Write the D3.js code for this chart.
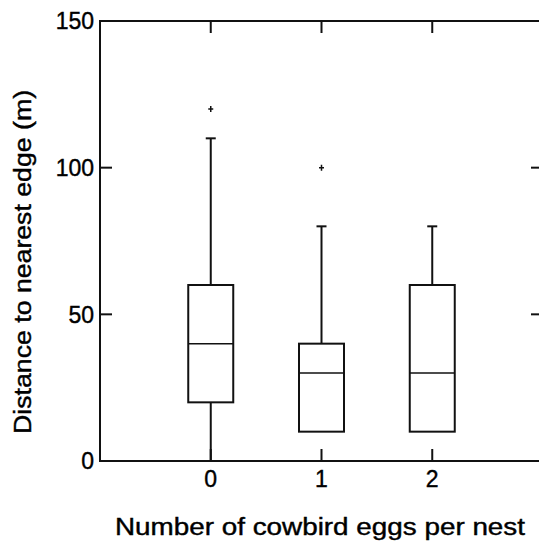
<!DOCTYPE html>
<html>
<head>
<meta charset="utf-8">
<script src="https://cdn.jsdelivr.net/npm/d3@7"></script>
<style>
  body { margin: 0; background: #fff; }
  svg { display: block; font-family: "Liberation Sans", Arial, sans-serif; }
  text { fill: #000; stroke: #000; stroke-width: 0.4; }
</style>
</head>
<body>
<div id="chart"></div>
<script>
// egg counts and box stats
const categories = [0, 1, 2];
const whiskerLow = [0, 10, 10];
const q1 = [20, 10, 10];
const median = [40, 30, 30];
const q3 = [60, 40, 60];
const whiskerHigh = [110, 80, 80];
const outliers = [[120], [100], []];
const yTicks = [0, 50, 100, 150];

const width = 539, height = 541;
const margin = { top: 21, right: -4, bottom: 80, left: 100 };

const svg = d3.select("#chart").append("svg")
  .attr("width", width)
  .attr("height", height);

const x = d3.scaleLinear().domain([-1, 3]).range([margin.left, width - margin.right]);
const y = d3.scaleLinear().domain([0, 150]).range([height - margin.bottom, margin.top]);

const stroke = "#111";

// frame
svg.append("rect")
  .attr("x", x(-1)).attr("y", y(150))
  .attr("width", x(3) - x(-1)).attr("height", y(0) - y(150))
  .attr("fill", "none").attr("stroke", stroke).attr("stroke-width", 2);

// y ticks, inside on both sides
const tl = 12;
svg.append("g").selectAll("line.yl").data(yTicks).join("line")
  .attr("x1", x(-1)).attr("x2", x(-1) + tl)
  .attr("y1", d => y(d)).attr("y2", d => y(d))
  .attr("stroke", stroke).attr("stroke-width", 2);
svg.append("g").selectAll("line.yr").data(yTicks).join("line")
  .attr("x1", x(3)).attr("x2", x(3) - tl)
  .attr("y1", d => y(d)).attr("y2", d => y(d))
  .attr("stroke", stroke).attr("stroke-width", 2);
svg.append("g").selectAll("text").data(yTicks).join("text")
  .attr("x", x(-1) - 6).attr("y", d => y(d))
  .attr("dy", "0.36em")
  .attr("text-anchor", "end")
  .attr("font-size", 23)
  .text(d => d);

// x ticks, inside top and bottom
svg.append("g").selectAll("line.xb").data(categories).join("line")
  .attr("x1", d => x(d)).attr("x2", d => x(d))
  .attr("y1", y(0)).attr("y2", y(0) - tl)
  .attr("stroke", stroke).attr("stroke-width", 2);
svg.append("g").selectAll("line.xt").data(categories).join("line")
  .attr("x1", d => x(d)).attr("x2", d => x(d))
  .attr("y1", y(150)).attr("y2", y(150) + tl)
  .attr("stroke", stroke).attr("stroke-width", 2);
svg.append("g").selectAll("text").data(categories).join("text")
  .attr("x", d => x(d)).attr("y", y(0) + 26)
  .attr("text-anchor", "middle")
  .attr("font-size", 23)
  .text(d => d);

// boxes
const bw = 45, cap = 10;
const boxes = svg.append("g").selectAll("g").data(categories).join("g");

boxes.append("line")
  .attr("x1", d => x(d)).attr("x2", d => x(d))
  .attr("y1", (d, i) => y(q3[i])).attr("y2", (d, i) => y(whiskerHigh[i]))
  .attr("stroke", stroke).attr("stroke-width", 2);
boxes.append("line")
  .attr("x1", d => x(d)).attr("x2", d => x(d))
  .attr("y1", (d, i) => y(q1[i])).attr("y2", (d, i) => y(whiskerLow[i]))
  .attr("stroke", stroke).attr("stroke-width", 2);
boxes.append("line")
  .attr("x1", d => x(d) - cap / 2).attr("x2", d => x(d) + cap / 2)
  .attr("y1", (d, i) => y(whiskerHigh[i])).attr("y2", (d, i) => y(whiskerHigh[i]))
  .attr("stroke", stroke).attr("stroke-width", 2);
boxes.append("rect")
  .attr("x", d => x(d) - bw / 2).attr("width", bw)
  .attr("y", (d, i) => y(q3[i]))
  .attr("height", (d, i) => y(q1[i]) - y(q3[i]))
  .attr("fill", "none").attr("stroke", stroke).attr("stroke-width", 2);
boxes.append("line")
  .attr("x1", d => x(d) - bw / 2).attr("x2", d => x(d) + bw / 2)
  .attr("y1", (d, i) => y(median[i])).attr("y2", (d, i) => y(median[i]))
  .attr("stroke", stroke).attr("stroke-width", 1.5);

// outliers as small plus marks
boxes.each(function (d, i) {
  d3.select(this).selectAll("path").data(outliers[i]).join("path")
    .attr("d", v => `M${x(d) - 2.5},${y(v)}h5M${x(d)},${y(v) - 3}v6`)
    .attr("stroke", stroke).attr("stroke-width", 1.5);
});

// axis titles
svg.append("text")
  .attr("x", 320).attr("y", 535)
  .attr("text-anchor", "middle")
  .attr("font-size", 23)
  .attr("textLength", 410)
  .attr("lengthAdjust", "spacingAndGlyphs")
  .text("Number of cowbird eggs per nest");

svg.append("text")
  .attr("transform", `translate(31,262) rotate(-90)`)
  .attr("text-anchor", "middle")
  .attr("font-size", 23)
  .attr("textLength", 344)
  .attr("lengthAdjust", "spacingAndGlyphs")
  .text("Distance to nearest edge (m)");
</script>
</body>
</html>
